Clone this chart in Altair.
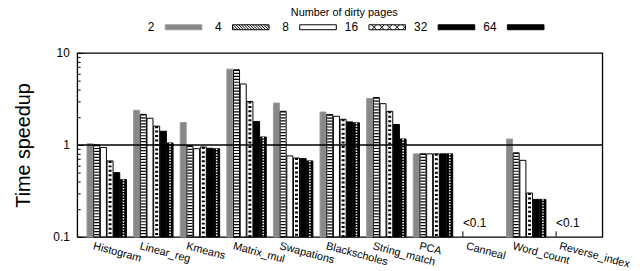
import altair as alt
import pandas as pd

categories = ["Histogram", "Linear_reg", "Kmeans", "Matrix_mul", "Swapations",
              "Blackscholes", "String_match", "PCA", "Canneal", "Word_count", "Reverse_index"]
series = ["2", "4", "8", "16", "32", "64"]
speedups = {
    "Histogram":    [1.03, 1.00, 0.94, 0.67, 0.50, 0.42],
    "Linear_reg":   [2.38, 2.15, 1.95, 1.60, 1.41, 1.05],
    "Kmeans":       [1.75, 0.98, 0.91, 0.95, 0.92, 0.91],
    "Matrix_mul":   [6.67, 6.56, 4.60, 2.97, 1.80, 1.22],
    "Swapations":   [2.85, 2.32, 0.76, 0.72, 0.71, 0.67],
    "Blackscholes": [2.28, 2.14, 2.05, 1.90, 1.78, 1.74],
    "String_match": [3.20, 3.28, 2.81, 2.32, 1.67, 1.16],
    "PCA":          [0.80, 0.80, 0.80, 0.80, 0.80, 0.80],
    "Word_count":   [1.16, 0.82, 0.68, 0.30, 0.256, 0.256],
}
below_cats = ["Canneal", "Reverse_index"]
below_label = "<0.1"
below_marker = 0.115
ref_line = [1]
y_major = [0.1, 1, 10]
y_minor = [0.2, 0.3, 0.4, 0.5, 0.6, 0.7, 0.8, 0.9, 2, 3, 4, 5, 6, 7, 8, 9]

rows = []
for c, vals in speedups.items():
    for s, v in zip(series, vals):
        rows.append({"cat": c, "s": s, "v": v})
df = pd.DataFrame(rows)
anno = pd.DataFrame({"cat": below_cats, "s": ["2"] * len(below_cats),
                     "v": [below_marker] * len(below_cats), "t": [below_label] * len(below_cats)})
line_df = pd.DataFrame({"v": ref_line})

FONT = "Liberation Sans"

# legend swatch shapes: symbol paths drawn to the right of the label
H = 0.5
XA, XB = 3.4, 10.8
rect = f"M{XA},-{H}H{XB}V{H}H{XA}Z"


def diag(pitch, backslash=True):
    out = []
    x0 = XA - 2 * H
    while x0 < XB:
        xa, ya = x0, -H
        xb, yb = x0 + 2 * H, H
        if xa < XA:
            ya = -H + (XA - xa); xa = XA
        if xb > XB:
            yb = -H + (XB - x0); xb = XB
        if backslash:
            out.append(f"M{xa:.3f},{ya:.3f}L{xb:.3f},{yb:.3f}")
        else:
            out.append(f"M{xa:.3f},{-ya:.3f}L{xb:.3f},{-yb:.3f}")
        x0 += pitch
    return "".join(out)


p4 = rect + diag(0.56)
p16 = rect + diag(1.55) + diag(1.55, backslash=False)
shapes = [rect, p4, rect, p16, rect, rect]

legend = alt.Legend(
    title="Number of dirty pages", orient="none", legendX=66, legendY=-46,
    direction="horizontal", titleAnchor="middle", titleFont=FONT, titleFontSize=11,
    titleFontWeight="normal", titleColor="black", titlePadding=3,
    labelFont=FONT, labelFontSize=12, labelColor="black", labelAlign="right",
    labelOffset=0, symbolSize=100, symbolStrokeWidth=1, columnPadding=6,
)

X = alt.X("cat:N", sort=categories,
          scale=alt.Scale(domain=categories, paddingInner=0.154, paddingOuter=0.21),
          axis=alt.Axis(title=None, labelAngle=15, labelAlign="left", labelBaseline="top",
                        labelOffset=-12, labelPadding=3, ticks=False, domain=False,
                        labelFont=FONT, labelFontSize=11, labelColor="black"))
XO = alt.XOffset("s:N", sort=series, scale=alt.Scale(domain=series, paddingInner=0.1))
yscale = alt.Scale(type="log", domain=[0.1, 10], nice=False)
fill_scale = alt.Scale(domain=series,
                       range=["#888888", "#ffffff", "#ffffff", "#ffffff", "#000000", "#000000"])
stroke_scale = alt.Scale(domain=series, range=["#9a9a9a", "#000", "#000", "#000", "#000", "#000"])


def Y(axis):
    return alt.Y("v:Q", scale=yscale, axis=axis)


axisA = alt.Axis(values=y_major, format="~g", ticks=False, domain=False, grid=False,
                 labelFont=FONT, labelFontSize=12, labelColor="black", labelPadding=8,
                 title="Time speedup", titleFont=FONT, titleFontSize=20,
                 titleFontWeight="normal", titleColor="#000000", titlePadding=20)
axisB = alt.Axis(values=y_major, labels=False, domain=False, grid=False, title=None,
                 tickSize=6, offset=-6, tickColor="black", orient="left")
axisC = alt.Axis(values=y_minor, labels=False, domain=False, grid=False, title=None,
                 tickSize=3, offset=-3, tickColor="black", orient="left")

base = alt.Chart(df).mark_bar(strokeWidth=1).encode(
    x=X, xOffset=XO, y=Y(axisA), y2=alt.datum(0.1),
    fill=alt.Fill("s:N", sort=series, scale=fill_scale, legend=legend),
    stroke=alt.Stroke("s:N", sort=series, scale=stroke_scale, legend=legend),
)

# legend carrier for swatch shapes (no rows drawn)
leg = alt.Chart(df).transform_filter("false").mark_point(
    filled=True, size=100, strokeWidth=1).encode(
    x=X, y=Y(None),
    shape=alt.Shape("s:N", sort=series, scale=alt.Scale(domain=series, range=shapes), legend=legend),
)

ov4 = alt.Chart(df).transform_filter(alt.datum.s == "4").mark_rule(
    color="black", strokeWidth=5, strokeDash=[1.2, 1.8]).encode(
    x=X, xOffset=XO, y=Y(axisB), y2=alt.datum(0.1))
ov16 = alt.Chart(df).transform_filter(alt.datum.s == "16").mark_rule(
    color="black", strokeWidth=3, strokeDash=[2, 2.5]).encode(
    x=X, xOffset=XO, y=Y(axisC), y2=alt.datum(0.1))
ov64 = alt.Chart(df).transform_filter(alt.datum.s == "64").mark_rule(
    color="white", strokeWidth=1.6, strokeDash=[1.4, 1.4]).encode(
    x=X, xOffset=XO, y=Y(None), y2=alt.datum(0.1))

one = alt.Chart(line_df).mark_rule(color="black", strokeWidth=1.5).encode(y=Y(None))

anno_rule = alt.Chart(anno).mark_rule(color="black", strokeWidth=1).encode(
    x=X, xOffset=XO, y=Y(None), y2=alt.datum(0.1))
anno_text = alt.Chart(anno).mark_text(align="left", baseline="bottom", dy=-1,
                                      font=FONT, fontSize=12, color="black").encode(
    x=X, xOffset=XO, y=Y(None), text="t:N")

chart = alt.layer(base, leg, ov4, ov16, ov64, one, anno_rule, anno_text).resolve_axis(
    y="independent"
).properties(
    width=531, height=186,
    autosize=alt.AutoSizeParams(type="none"),
    padding={"left": 70, "top": 44, "right": 30, "bottom": 33},
).configure_view(stroke="black", strokeWidth=1.3)

chart.save("out.html", embed_options={"renderer": "svg", "actions": False})
